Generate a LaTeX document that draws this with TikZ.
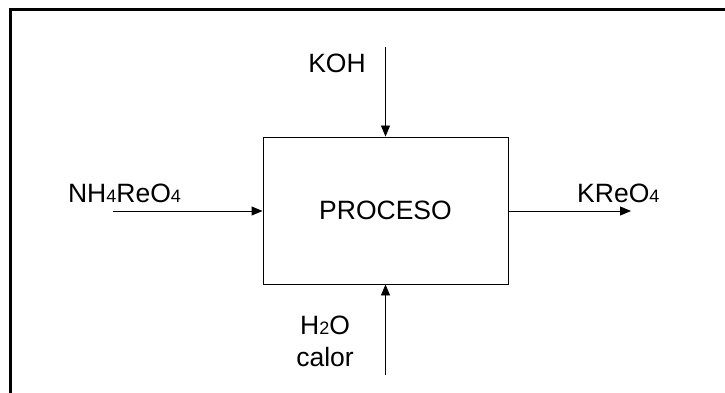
\documentclass[tikz,border=0pt]{standalone}
\usepackage{fontspec}
\setmainfont{Liberation Sans}
\usetikzlibrary{arrows.meta}
\newcommand{\subidx}[1]{{\fontsize{18}{20}\selectfont #1}}
\begin{document}
\begin{tikzpicture}[x=1pt, y=-1pt, every node/.style={font=\fontsize{26.5}{32}\selectfont},
  flow/.style={-{Triangle[length=11pt,width=9pt]}, line width=0.9pt}]
 \useasboundingbox (0,0) rectangle (725,393);
 % marco
 \draw[line width=3pt] (10.5,393) -- (10.5,9.5) -- (725,9.5);
 % proceso
 \node[draw, line width=0.9pt, minimum width=245pt, minimum height=147pt, inner sep=0pt] (proc) at (385.5,210.5) {PROCESO};
 \coordinate (kohin) at (385.5,47);
 \coordinate (aguain) at (385.5,375);
 \coordinate (nhin) at (113,211);
 \coordinate (kout) at (631,211);
 \draw[flow] (kohin) -- (proc.north);
 \draw[flow] (aguain) -- (proc.south);
 \draw[flow] (nhin) -- (proc.west |- nhin);
 \draw[flow] (proc.east |- kout) -- (kout);
 % etiquetas
 \node (koh) at (337,63) {KOH};
 \node[align=center] (agua) at (325,341) {H\subidx{2}O\\calor};
 \node (nh) at (124.5,193) {NH\subidx{4}ReO\subidx{4}};
 \node[anchor=west, inner sep=0pt] (kre) at (577,193) {KReO\subidx{4}};
\end{tikzpicture}
\end{document}
